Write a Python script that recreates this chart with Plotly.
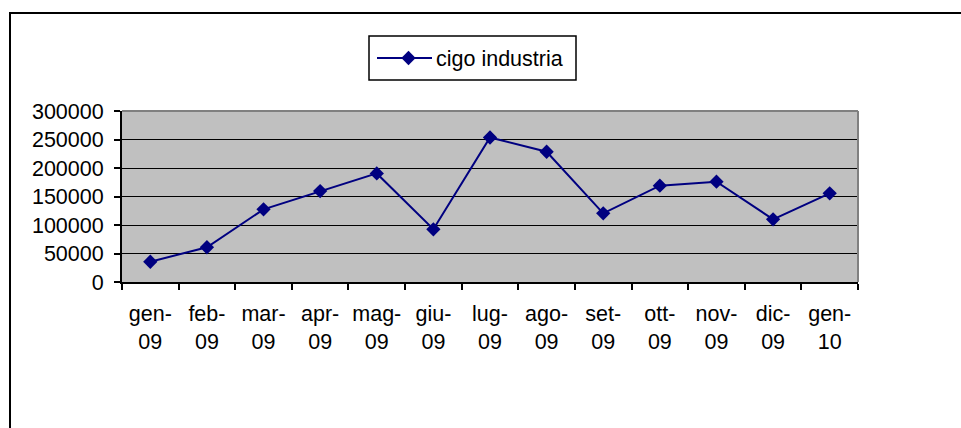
import plotly.graph_objects as go

months = ["gen-<br>09", "feb-<br>09", "mar-<br>09", "apr-<br>09", "mag-<br>09", "giu-<br>09",
          "lug-<br>09", "ago-<br>09", "set-<br>09", "ott-<br>09", "nov-<br>09", "dic-<br>09", "gen-<br>10"]
categories = ["gen-09", "feb-09", "mar-09", "apr-09", "mag-09", "giu-09",
              "lug-09", "ago-09", "set-09", "ott-09", "nov-09", "dic-09", "gen-10"]
cigo_industria = [35500, 61000, 127500, 159500, 190500, 92500,
                  253500, 228500, 120500, 169000, 176000, 110000, 155500]
y_ticks = [0, 50000, 100000, 150000, 200000, 250000, 300000]

W, H = 961, 428
L, R, T, B = 122, 858, 111, 282  # plot area pixels

def px(x):
    return (x - L) / (R - L)

def py(y):
    return (B - y) / (B - T)

FONT = "Liberation Sans, Arial, sans-serif"
FS = 21.5
NAVY = "#000080"

fig = go.Figure()
fig.add_trace(go.Scatter(
    x=categories, y=cigo_industria, name="cigo industria",
    mode="lines+markers",
    line=dict(color=NAVY, width=2),
    marker=dict(symbol="diamond", size=11, color=NAVY),
))

fig.update_layout(
    width=W, height=H,
    margin=dict(l=L, r=W - R, t=T, b=H - B, pad=0),
    paper_bgcolor="white",
    plot_bgcolor="#C0C0C0",
    font=dict(family=FONT, size=FS, color="black"),
    showlegend=True,
    legend=dict(
        x=px(381), y=py(58), xanchor="left", yanchor="middle",
        bgcolor="rgba(0,0,0,0)", borderwidth=0, itemwidth=45,
        font=dict(family=FONT, size=FS, color="black"),
    ),
    xaxis=dict(
        type="category",
        categoryorder="array", categoryarray=categories,
        range=[-0.5, len(categories) - 0.5],
        tickvals=categories, ticktext=months, tickangle=0,
        tickson="boundaries", ticks="outside", ticklen=6, tickwidth=1.5, tickcolor="black",
        showline=True, linecolor="black", linewidth=2,
        showgrid=False, zeroline=False,
        ticklabelstandoff=11,
        tickfont=dict(family=FONT, size=FS, color="black"),
    ),
    yaxis=dict(
        range=[0, 300000], tickvals=y_ticks, ticktext=[str(v) for v in y_ticks],
        ticks="outside", ticklen=6, tickwidth=1.5, tickcolor="black",
        showline=True, linecolor="black", linewidth=2,
        showgrid=True, gridcolor="black", gridwidth=1,
        zeroline=False,
        ticklabelstandoff=6,
        tickfont=dict(family=FONT, size=FS, color="black"),
    ),
    shapes=[
        # outer chart border
        dict(type="rect", xref="paper", yref="paper",
             x0=px(10), x1=px(975), y0=py(440), y1=py(13),
             line=dict(color="black", width=2), fillcolor="rgba(0,0,0,0)", layer="above"),
        # plot area grey border top and right
        dict(type="line", xref="paper", yref="paper", x0=0, x1=1, y0=1, y1=1,
             line=dict(color="#808080", width=2), layer="above"),
        dict(type="line", xref="paper", yref="paper", x0=1, x1=1, y0=0, y1=1,
             line=dict(color="#808080", width=2), layer="above"),
        # legend box
        dict(type="rect", xref="paper", yref="paper",
             x0=px(369), x1=px(576), y0=py(80), y1=py(36),
             line=dict(color="black", width=1.5), fillcolor="rgba(0,0,0,0)", layer="above"),
        # full-length legend line sample
        dict(type="line", xref="paper", yref="paper",
             x0=px(377), x1=px(432), y0=py(58), y1=py(58),
             line=dict(color=NAVY, width=2), layer="below"),
    ],
)

fig.write_html("out.html")
